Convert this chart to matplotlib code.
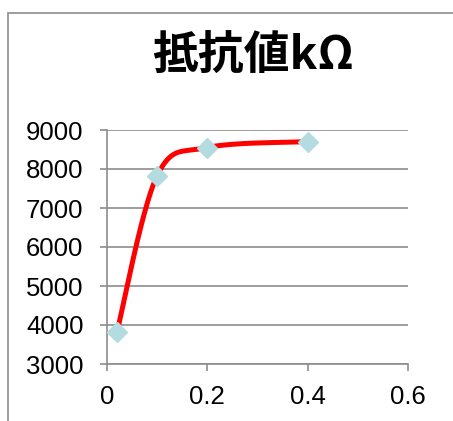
import matplotlib
matplotlib.use("Agg")
import matplotlib.pyplot as plt
import numpy as np
from matplotlib.patches import Rectangle

# measured points
x_vals = [0.02, 0.1, 0.2, 0.4]
r_vals = [3830, 7830, 8550, 8700]
title = "抵抗値kΩ"

GRID = "#8C8C8C"
XLIM = (0.0, 0.6)
YLIM = (3000, 9000)


def smooth_curve(xs, ys, sx, sy, n=60):
    """Excel-style smoothed line: cubic Bezier segments, tension 1/6."""
    p = np.column_stack([np.asarray(xs, float) / sx, np.asarray(ys, float) / sy])
    pts = np.vstack([p[0], p, p[-1]])
    t = np.linspace(0, 1, n)[:, None]
    out = []
    for i in range(1, len(pts) - 2):
        p0, p3 = pts[i], pts[i + 1]
        c1 = p0 + (pts[i + 1] - pts[i - 1]) / 6.0
        c2 = p3 - (pts[i + 2] - pts[i]) / 6.0
        seg = ((1 - t) ** 3) * p0 + 3 * ((1 - t) ** 2) * t * c1 + 3 * (1 - t) * t ** 2 * c2 + t ** 3 * p3
        out.append(seg)
    c = np.vstack(out)
    return c[:, 0] * sx, c[:, 1] * sy


plt.rcParams["font.family"] = ["Liberation Sans", "DejaVu Sans"]

W, H = 453, 421
fig = plt.figure(figsize=(W / 100, H / 100), dpi=100)

# outer chart frame
fig.patches.append(Rectangle((8 / W, -0.1), 1.2, (H - 13) / H + 0.1,
                             transform=fig.transFigure, fill=False,
                             edgecolor="#8C8C8C", linewidth=1.2))

ax = fig.add_axes([107 / W, 57 / H, 301 / W, 234 / H])
ax.set_xlim(*XLIM)
ax.set_ylim(*YLIM)
ax.set_xticks(np.arange(0, 0.61, 0.2))
ax.set_xticklabels(["0", "0.2", "0.4", "0.6"])
ax.set_yticks(np.arange(3000, 9001, 1000))

for side in ("top", "right"):
    ax.spines[side].set_visible(False)
for side in ("left", "bottom"):
    ax.spines[side].set_color(GRID)
    ax.spines[side].set_linewidth(1.2)

ax.yaxis.grid(True, color=GRID, linewidth=1.2)
ax.set_axisbelow(True)
ax.tick_params(axis="both", direction="out", length=5, width=1.2, color=GRID,
               labelsize=18.5, labelcolor="black")
ax.tick_params(axis="y", pad=12)
ax.tick_params(axis="x", pad=10)

# axis-unit scaling so the smoothing follows the on-screen shape
sx = (XLIM[1] - XLIM[0]) / 301
sy = (YLIM[1] - YLIM[0]) / 234
cx, cy = smooth_curve(x_vals, r_vals, sx, sy)
ax.plot(cx, cy, color="#FF0000", linewidth=3.6, solid_capstyle="butt", zorder=3, clip_on=False)
ax.plot(x_vals, r_vals, linestyle="none", marker="D", markersize=10.2,
        markerfacecolor="#B4DCE0", markeredgecolor="#B4DCE0", zorder=4, clip_on=False)

fig.text(253 / W, 1 - 57 / H, title, ha="center", va="center",
         fontsize=33, fontweight="bold", family=["Noto Sans CJK JP", "DejaVu Sans"])

fig.savefig("out.png", dpi=100)
